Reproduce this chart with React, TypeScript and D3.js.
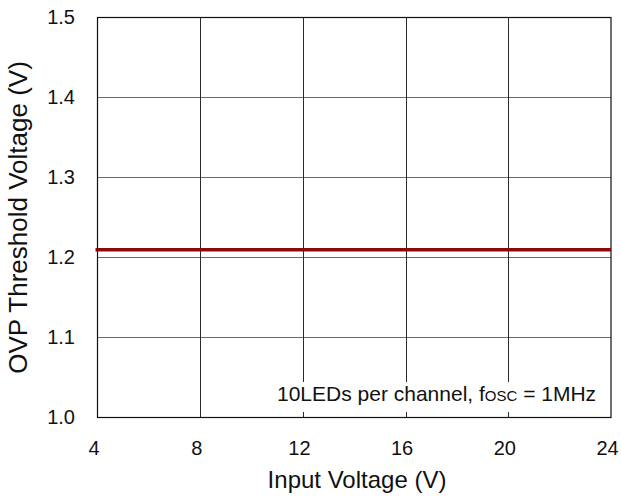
import React from "react";
import * as d3 from "d3";

const inputVoltage = [4, 6, 8, 10, 12, 14, 16, 18, 20, 22, 24];
const ovpThreshold = [1.209, 1.209, 1.209, 1.209, 1.209, 1.209, 1.209, 1.209, 1.209, 1.209, 1.209];
const xTicks = [4, 8, 12, 16, 20, 24];
const yTicks = [1.0, 1.1, 1.2, 1.3, 1.4, 1.5];
const xTitle = "Input Voltage (V)";
const yTitle = "OVP Threshold Voltage (V)";

const W = 621;
const H = 498;
const M = { left: 97.5, right: 611, top: 17, bottom: 417 };
const FONT = "'Liberation Sans', Arial, Helvetica, sans-serif";

export default function App() {
  const x = d3.scaleLinear().domain([4, 24]).range([M.left, M.right]);
  const y = d3.scaleLinear().domain([1.0, 1.5]).range([M.bottom, M.top]);
  const data = inputVoltage.map((v, i) => ({ v, t: ovpThreshold[i] }));
  const line = d3
    .line<{ v: number; t: number }>()
    .x((d) => x(d.v))
    .y((d) => y(d.t));

  return (
    <svg
      width={W}
      height={H}
      style={{ position: "absolute", left: 0, top: 0, background: "#fff" }}
      fontFamily={FONT}
    >
      <rect x={0} y={0} width={W} height={H} fill="#fff" />
      {/* horizontal grid */}
      {yTicks.slice(1, -1).map((t) => (
        <line
          key={"hy" + t}
          x1={M.left}
          x2={M.right}
          y1={Math.round(y(t)) + 0.5}
          y2={Math.round(y(t)) + 0.5}
          stroke="#6a6a6a"
          strokeWidth={1}
        />
      ))}
      {/* vertical grid */}
      {xTicks.slice(1, -1).map((t) => (
        <line
          key={"vx" + t}
          x1={Math.round(x(t)) + 0.5}
          x2={Math.round(x(t)) + 0.5}
          y1={M.top}
          y2={M.bottom}
          stroke="#2a2a2a"
          strokeWidth={1}
        />
      ))}
      {/* annotation background */}
      <rect x={270} y={382} width={M.right - 270 - 1} height={30} fill="#fff" />
      {/* frame */}
      <rect
        x={M.left}
        y={M.top + 0.5}
        width={M.right - M.left}
        height={M.bottom - M.top}
        fill="none"
        stroke="#111"
        strokeWidth={1.2}
      />
      {/* data line */}
      <path d={line(data) || ""} fill="none" stroke="#8b0b0b" strokeWidth={3.5} />
      <line
        x1={M.left - 2}
        x2={M.left}
        y1={y(ovpThreshold[0])}
        y2={y(ovpThreshold[0])}
        stroke="#8b0b0b"
        strokeWidth={3.5}
      />
      {/* y tick labels */}
      {yTicks.map((t) => (
        <text
          key={"yl" + t}
          x={75}
          y={y(t)}
          dy="0.36em"
          textAnchor="end"
          fontSize={20}
          fill="#111"
        >
          {t.toFixed(1)}
        </text>
      ))}
      {/* x tick labels */}
      {xTicks.map((t) => (
        <text
          key={"xl" + t}
          x={x(t) - 3.5}
          y={455}
          textAnchor="middle"
          fontSize={20}
          fill="#111"
        >
          {t}
        </text>
      ))}
      {/* titles */}
      <text x={357} y={488} textAnchor="middle" fontSize={24} fill="#111">
        {xTitle}
      </text>
      <text
        transform={`translate(27,217.5) rotate(-90)`}
        textAnchor="middle"
        fontSize={26}
        fill="#111"
      >
        {yTitle}
      </text>
      {/* annotation */}
      <text x={277} y={401} fontSize={21} fill="#111">
        10LEDs per channel, f
        <tspan fontSize={15}>OSC</tspan>
        <tspan> = 1MHz</tspan>
      </text>
    </svg>
  );
}
